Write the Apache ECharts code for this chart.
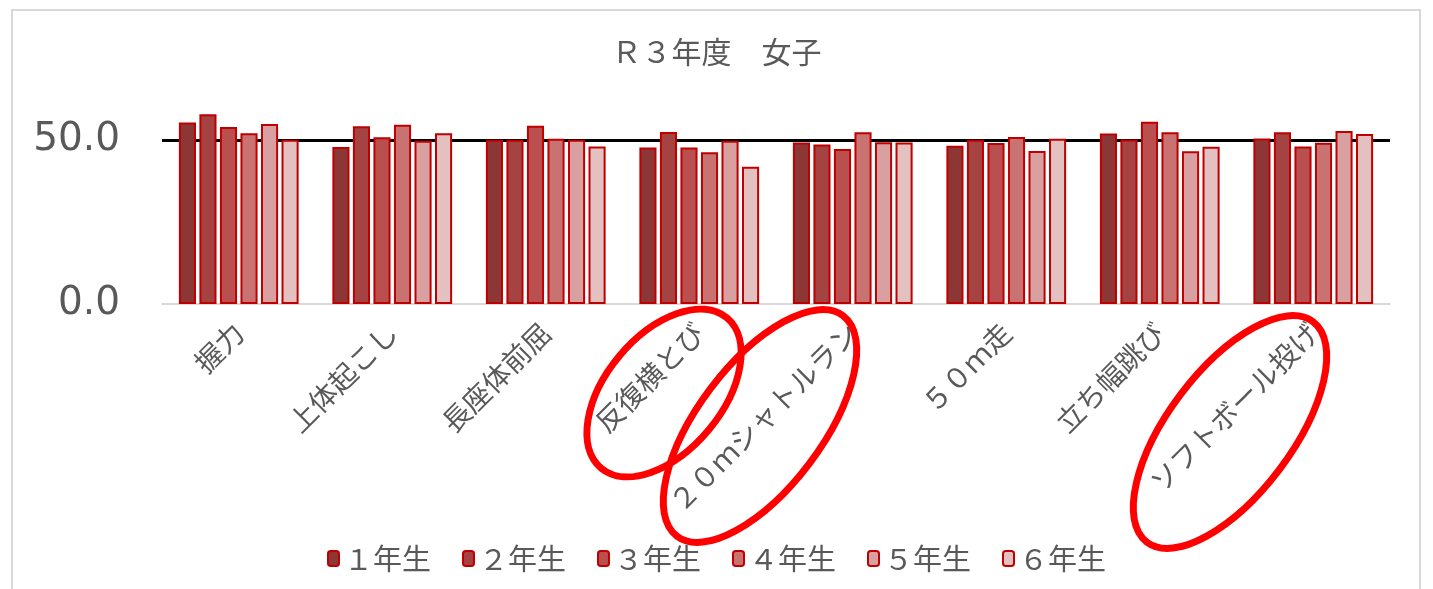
<!DOCTYPE html>
<html>
<head>
<meta charset="utf-8">
<script src="https://cdn.jsdelivr.net/npm/echarts@6/dist/echarts.min.js"></script>
<style>
  html, body { margin: 0; padding: 0; background: #fff; }
  #chart { width: 1433px; height: 589px; }
</style>
</head>
<body>
<div id="chart"></div>
<script>
// 種目
const categories = ['握力', '上体起こし', '長座体前屈', '反復横とび', '２０ｍシャトルラン', '５０ｍ走', '立ち幅跳び', 'ソフトボール投げ']
const grades = ['１年生', '２年生', '３年生', '４年生', '５年生', '６年生']

// 学年ごとの値（種目順）
const grade1 = [55.3, 47.8, 50.0, 47.7, 49.2, 48.2, 51.9, 50.4]
const grade2 = [57.8, 54.1, 50.0, 52.4, 48.6, 50.0, 50.1, 52.3]
const grade3 = [53.9, 50.8, 54.3, 47.7, 47.2, 49.0, 55.5, 48.0]
const grade4 = [52.0, 54.6, 50.3, 46.2, 52.3, 50.9, 52.3, 49.1]
const grade5 = [54.8, 49.7, 50.0, 49.7, 49.3, 46.6, 46.5, 52.7]
const grade6 = [50.0, 52.0, 48.0, 41.8, 49.2, 50.3, 47.9, 51.8]

const gradeValues = [grade1, grade2, grade3, grade4, grade5, grade6]
const barColors = ['#8c3636', '#a54242', '#b94f4f', '#c97272', '#d8a0a0', '#e3c1c1']

const textColor = '#595959'
const jpFont = '"Noto Sans CJK JP", "Noto Sans", sans-serif'

let myEchart = echarts.init(document.getElementById('chart'))

// 手書きの丸囲み
function ring(x, y, rx, ry, deg) {
  return {
    type: 'ellipse',
    x: x,
    y: y,
    rotation: deg * Math.PI / 180,
    shape: {cx: 0, cy: 0, rx: rx, ry: ry},
    style: {fill: 'none', stroke: '#ff0000', lineWidth: 7},
    z: 100
  }
}

myEchart.setOption({
  animation: false,
  title: {
    text: 'Ｒ３年度　女子',
    left: 'center',
    top: 32,
    textStyle: {color: textColor, fontSize: 30, fontWeight: 'normal', fontFamily: jpFont}
  },
  legend: {
    data: grades,
    bottom: 11,
    left: 'center',
    itemWidth: 11,
    itemHeight: 15,
    itemGap: 31,
    textStyle: {color: textColor, fontSize: 29, fontFamily: jpFont}
  },
  grid: {
    left: 162,
    right: 43,
    top: 107,
    bottom: 285,
    containLabel: false
  },
  xAxis: {
    type: 'category',
    data: categories,
    axisTick: {show: false},
    axisLine: {lineStyle: {color: '#d9d9d9', width: 2}},
    axisLabel: {
      rotate: 45,
      margin: 24,
      interval: 0,
      color: textColor,
      fontSize: 28,
      fontFamily: jpFont
    }
  },
  yAxis: {
    type: 'value',
    min: 0,
    max: 60,
    interval: 50,
    axisLine: {show: false},
    axisTick: {show: false},
    axisLabel: {
      showMaxLabel: false,
      margin: 42,
      color: textColor,
      fontSize: 39,
      fontFamily: '"DejaVu Sans", sans-serif',
      formatter: v => v.toFixed(1)
    },
    splitLine: {
      show: true,
      showMinLine: false,
      showMaxLine: false,
      lineStyle: {color: '#000', width: 3}
    }
  },
  series: grades.map((name, i) => ({
    name: name,
    type: 'bar',
    barGap: '20%',
    barCategoryGap: '22%',
    itemStyle: {color: barColors[i], borderColor: '#c00000', borderWidth: 2},
    data: gradeValues[i]
  })),
  graphic: [
    {
      type: 'rect',
      shape: {x: 12, y: 10, width: 1408, height: 600},
      style: {fill: 'none', stroke: '#d9d9d9', lineWidth: 2},
      silent: true
    },
    ring(664, 393, 98, 58, 50),
    ring(760, 426, 138, 62, 53),
    ring(1230, 432, 138, 62, 53)
  ]
})
</script>
</body>
</html>
